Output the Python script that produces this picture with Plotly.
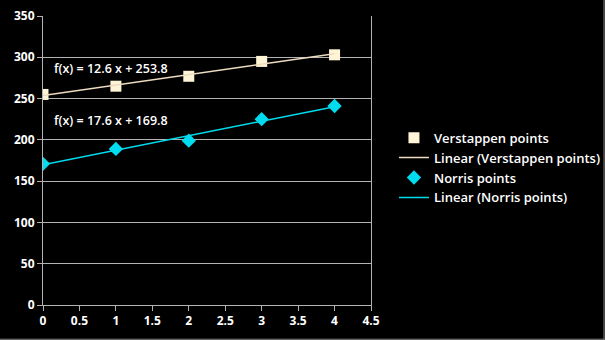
import numpy as np
import plotly.graph_objects as go

races = [0, 1, 2, 3, 4]
verstappen_points = [255, 265, 277, 295, 303]
norris_points = [171, 189, 199, 225, 241]
x_ticks = [0, 0.5, 1, 1.5, 2, 2.5, 3, 3.5, 4, 4.5]
y_ticks = [0, 50, 100, 150, 200, 250, 300, 350]

V_COLOR = "#fff5d6"
V_LINE = "#eedcc0"
N_COLOR = "#00dcef"
FONT = "Open Sans"

xv = np.array(races, dtype=float)
mv, bv = np.polyfit(xv, verstappen_points, 1)
mn, bn = np.polyfit(xv, norris_points, 1)

fig = go.Figure()
fig.add_trace(go.Scatter(x=races, y=verstappen_points, mode="markers", name="Verstappen points",
                         marker=dict(symbol="square", size=11, color=V_COLOR)))
fig.add_trace(go.Scatter(x=races, y=list(mv * xv + bv), mode="lines", name="Linear (Verstappen points)",
                         line=dict(color=V_LINE, width=1.5)))
fig.add_trace(go.Scatter(x=races, y=norris_points, mode="markers", name="Norris points",
                         marker=dict(symbol="diamond", size=11, color=N_COLOR)))
fig.add_trace(go.Scatter(x=races, y=list(mn * xv + bn), mode="lines", name="Linear (Norris points)",
                         line=dict(color=N_COLOR, width=1.5)))

ann_font = dict(family=FONT, size=12.5, color="white", weight=600)
fig.add_annotation(x=0.12, y=287, xanchor="left", yanchor="middle", showarrow=False,
                   text=f"f(x) = {mv:.1f} x + {bv:.1f}", font=ann_font)
fig.add_annotation(x=0.12, y=224, xanchor="left", yanchor="middle", showarrow=False,
                   text=f"f(x) = {mn:.1f} x + {bn:.1f}", font=ann_font)

# outer frame edges (right & bottom)
fig.add_shape(type="line", xref="paper", yref="paper", x0=-0.2, x1=1.712, y0=-0.1185, y1=-0.1185,
              line=dict(color="#8a8a8a", width=1))
fig.add_shape(type="line", xref="paper", yref="paper", x0=1.7105, x1=1.7105, y0=-0.2, y1=1.1,
              line=dict(color="#8a8a8a", width=1))

tick_font = dict(family=FONT, size=12, color="white", weight="bold")
fig.update_layout(
    width=605, height=340,
    margin=dict(l=43, r=234, t=16, b=35, autoexpand=False),
    paper_bgcolor="black", plot_bgcolor="black",
    font=dict(family=FONT, size=12, color="white"),
    showlegend=True,
    legend=dict(x=1.07, y=0.475, xanchor="left", yanchor="middle",
                font=dict(family=FONT, size=13, color="white", weight=600),
                bgcolor="rgba(0,0,0,0)", tracegroupgap=0, itemwidth=30),
    xaxis=dict(range=[0, 4.5], tickvals=x_ticks, ticktext=[f"{t:g}" for t in x_ticks],
               showgrid=False, zeroline=False, showline=True, linecolor="#b3b3b3", linewidth=1,
               ticks="outside", ticklen=5, tickcolor="#b3b3b3", tickfont=tick_font, automargin=False),
    yaxis=dict(range=[0, 350], tickvals=y_ticks, showgrid=True, gridcolor="#b3b3b3", gridwidth=1,
               zeroline=False, showline=True, linecolor="#b3b3b3", linewidth=1, mirror=True,
               ticks="outside", ticklen=5, tickcolor="#b3b3b3", tickfont=tick_font, automargin=False),
)

fig.write_html("out.html")
